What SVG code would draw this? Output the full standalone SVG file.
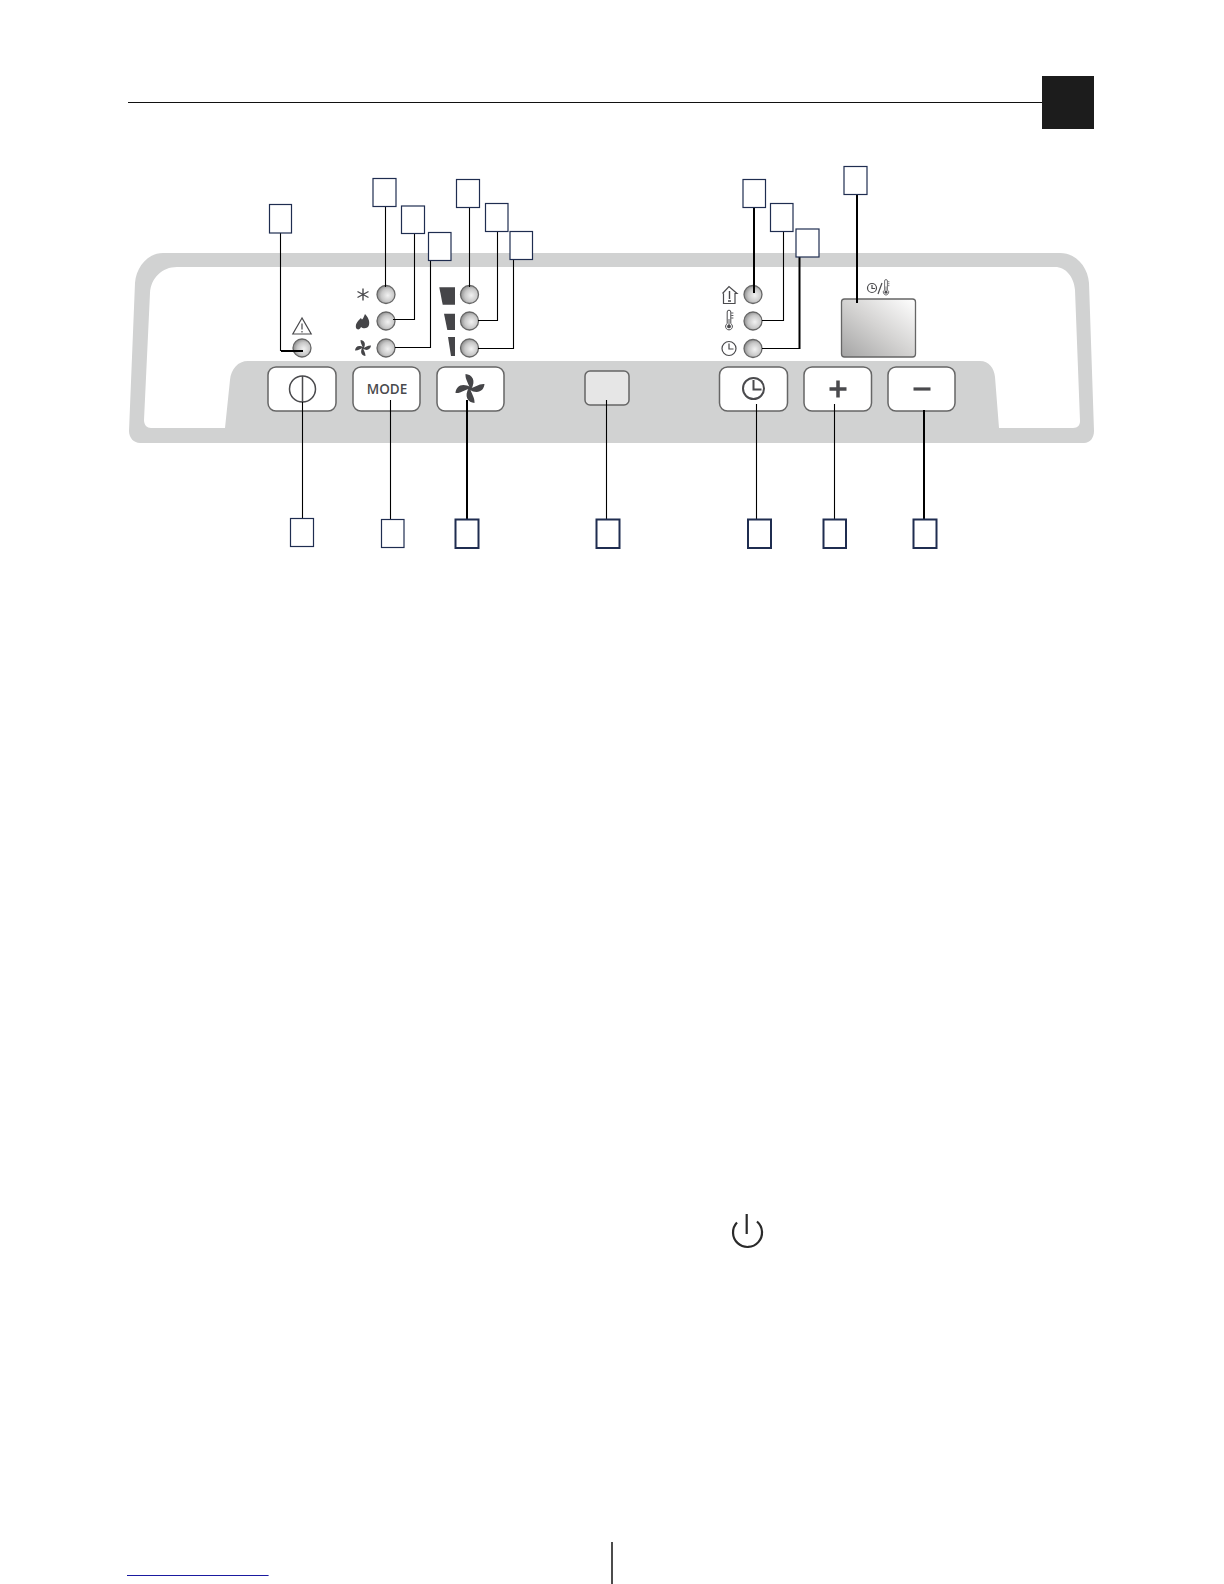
<svg xmlns="http://www.w3.org/2000/svg" xmlns:xlink="http://www.w3.org/1999/xlink" width="1224" height="1584" viewBox="0 0 1224 1584">
<style>
.btn{fill:#fff;stroke:#666;stroke-width:1.5}
.led{fill:url(#ledg);stroke:#666;stroke-width:1.3}
.box{fill:#fff;stroke:#1f2d50;stroke-width:1.2}
.boxb{fill:#fff;stroke:#1f2d50;stroke-width:2}
.c{fill:none;stroke:#000;stroke-width:1.1}
.cb{fill:none;stroke:#000;stroke-width:2}
.ic{fill:none;stroke:#4a4a4d;stroke-width:1.2}
.icf{fill:#454548;stroke:none}
.ib{fill:none;stroke:#4a4a4d;stroke-width:2}
</style>
<defs>
<radialGradient id="ledg" cx="0.6" cy="0.55" r="0.6"><stop offset="0" stop-color="#f2f2f2"/><stop offset="0.6" stop-color="#c8c8c8"/><stop offset="1" stop-color="#8e8e8e"/></radialGradient>
<linearGradient id="disp" x1="0" y1="1" x2="1" y2="0"><stop offset="0" stop-color="#a4a4a4"/><stop offset="0.5" stop-color="#d4d3d2"/><stop offset="1" stop-color="#ffffff"/></linearGradient>
<g id="fan"><path d="M0,1C-1,-5 -5,-9 -4.500,-14.500C2,-14 6.500,-8 1,1Z"/><path d="M0,1C-1,-5 -5,-9 -4.500,-14.500C2,-14 6.500,-8 1,1Z" transform="rotate(90)"/><path d="M0,1C-1,-5 -5,-9 -4.500,-14.500C2,-14 6.500,-8 1,1Z" transform="rotate(180)"/><path d="M0,1C-1,-5 -5,-9 -4.500,-14.500C2,-14 6.500,-8 1,1Z" transform="rotate(270)"/></g>
<g id="therm"><path d="M-1.8,-9a1.8,1.8 0 0 1 3.6,0V2.6a3.4,3.4 0 1 1 -3.6,0Z" fill="#fff" stroke="#4a4a4d" stroke-width="1"/><circle cx="0" cy="5.4" r="1.9" fill="#4a4a4d"/><path d="M0,-2V5M2.2,-8H4.4M2.2,-5.5H4.4M2.2,-3H4.4" stroke="#4a4a4d" stroke-width="0.9" fill="none"/></g>
</defs>
<rect width="1224" height="1584" fill="#fff"/>
<g id="header"><path d="M128,102.500H1042" stroke="#111" stroke-width="1"/><rect x="1042" y="76" width="52" height="53" fill="#1c1c1c"/></g>
<g id="panel"><path fill="#d1d2d2" fill-rule="evenodd" d="M163,253H1060C1077,253 1088,268 1089,283L1094,431C1094,438 1090,443 1084,443H140C134,443 129,438 129,431L135,283C136,268 147,253 163,253ZM177,267C162,267 151,278 150,293L144,420C144,425 147,428 151,428H225L230,380C231,369 238,361 248,361H980C989,361 994,368 995,377L999,428H1073C1078,428 1080,425 1080,421L1075,290C1074,277 1066,267 1055,267Z"/></g>
<g id="btn-power"><rect class="btn" x="268" y="367" width="68" height="44" rx="8"/><circle cx="302.500" cy="389" r="13" fill="none" stroke="#4a4a4d" stroke-width="1.5"/><path d="M302.500,376V402" stroke="#4a4a4d" stroke-width="1.5"/></g>
<g id="btn-mode"><rect class="btn" x="353" y="367" width="67" height="44" rx="8"/><text x="387" y="393.500" font-family="'Open Sans',sans-serif" font-weight="600" font-size="13.500" text-anchor="middle" fill="#4a4a4d">MODE</text></g>
<g id="btn-fan"><rect class="btn" x="437" y="367" width="67" height="44" rx="8"/><use href="#fan" xlink:href="#fan" transform="translate(470,388.500)" class="icf"/></g>
<g id="btn-small"><rect x="585" y="371" width="44" height="34" rx="5" fill="#e6e6e6" stroke="#666" stroke-width="1.5"/></g>
<g id="btn-timer"><rect class="btn" x="719.500" y="367" width="68" height="44" rx="8"/><circle class="ib" cx="753.500" cy="388.500" r="10.500"/><path class="ib" d="M753.500,380V389.500H761.500"/></g>
<g id="btn-plus"><rect class="btn" x="804" y="367" width="67.500" height="44" rx="8"/><path d="M829.500,389H846.500M838,380.500V397.500" stroke="#4a4a4d" stroke-width="3.500" fill="none"/></g>
<g id="btn-minus"><rect class="btn" x="888" y="367" width="67" height="44" rx="8"/><path d="M913.500,389H930.500" stroke="#4a4a4d" stroke-width="3.200" fill="none"/></g>
<g id="display"><rect x="841.500" y="299" width="74" height="58" rx="3" fill="url(#disp)" stroke="#666" stroke-width="1.300"/><circle class="ic" cx="872" cy="288" r="4.500"/><path class="ic" d="M872,285V288.500H875M878,294L882,283" stroke-width="1"/><use href="#therm" xlink:href="#therm" transform="translate(886,288) scale(0.78)"/></g>
<g id="led-alert"><circle class="led" cx="302" cy="348" r="9"/><path class="ic" d="M302,318L292.800,334H311.200Z" stroke-width="1.200"/><path d="M302,323.500V329.500M302,331V332.500" stroke="#4a4a4d" stroke-width="1.200"/></g>
<g id="led-cool"><circle class="led" cx="386" cy="294.500" r="9"/><path d="M363,288.500V300.500M357.500,291.500L368.500,297.500M357.500,297.500L368.500,291.500" stroke="#4a4a4d" stroke-width="1.400" fill="none"/></g>
<g id="led-dry"><circle class="led" cx="386" cy="321" r="9"/><path class="icf" d="M356,328C355,323 359,320 361,318C362,321 363,319 365,314C368,317 370,321 369,325C368,329 363,329 361,327C360,330 357,330 356,328Z"/></g>
<g id="led-fan"><circle class="led" cx="386" cy="348" r="9"/><use href="#fan" xlink:href="#fan" transform="translate(363,348) scale(0.55)" class="icf"/></g>
<g id="led-high"><circle class="led" cx="469.500" cy="294.500" r="9"/><path class="icf" d="M439.300,287.300H455V304.700H442.700Z"/></g>
<g id="led-mid"><circle class="led" cx="469.500" cy="321" r="9"/><path class="icf" d="M444,313.700H455V330H447.300Z"/></g>
<g id="led-low"><circle class="led" cx="469.500" cy="348" r="9"/><path class="icf" d="M448,337H455V356H451Z"/></g>
<g id="led-room"><circle class="led" cx="753" cy="294.500" r="9"/><path class="ic" d="M722.500,293.500L729,286.500L737,293.500H735V303.500H723.500V293.500" stroke-width="1.200"/><path d="M729.500,291V299M728,301H731" stroke="#4a4a4d" stroke-width="1.400"/></g>
<g id="led-temp"><circle class="led" cx="753" cy="321" r="9"/><use href="#therm" xlink:href="#therm" transform="translate(729,321)"/></g>
<g id="led-time"><circle class="led" cx="753" cy="348.500" r="9"/><circle class="ic" cx="729" cy="348.500" r="7"/><path class="ic" d="M729,343.500V349H733.500"/></g>
<g id="connectors">
<path class="c" d="M280.500,233V351"/><path class="cb" d="M281,351H303"/>
<path class="c" d="M385.500,206V287"/>
<path class="c" d="M414.500,233V319.500H393"/>
<path class="c" d="M430.500,260V347.500H395"/>
<path class="c" d="M469.500,207V287"/>
<path class="c" d="M497.500,231V320.500H478"/>
<path class="c" d="M513.500,259V348.500H478"/>
<path class="cb" d="M754,207V293"/>
<path class="c" d="M783.500,231V320.500H762"/>
<path class="cb" d="M799.500,257V348"/><path class="c" d="M800.500,348.500H762"/>
<path class="cb" d="M857,194V303"/>
<path class="c" d="M302.500,402V518"/>
<path class="c" d="M390.500,400V519"/>
<path class="cb" d="M467,400V519"/>
<path class="c" d="M606.500,400V519"/>
<path class="c" d="M756.500,404V519"/>
<path class="c" d="M834.500,404V519"/>
<path class="cb" d="M924,410V519"/>
</g>
<g id="callouts">
<rect class="box" x="269.500" y="204.500" width="22" height="28.500"/>
<rect class="box" x="373" y="178.500" width="23" height="28"/>
<rect class="box" x="401.500" y="206" width="23" height="27.500"/>
<rect class="box" x="428.500" y="232.500" width="22.500" height="28"/>
<rect class="box" x="456.500" y="179.500" width="23" height="28"/>
<rect class="box" x="485.500" y="203.500" width="22.500" height="28"/>
<rect class="box" x="510" y="231.500" width="22.500" height="28"/>
<rect class="box" x="743" y="179.500" width="22.500" height="28"/>
<rect class="box" x="770.500" y="203.500" width="22.500" height="28"/>
<rect class="box" x="796" y="229" width="23" height="28"/>
<rect class="box" x="844" y="166.500" width="23" height="28"/>
<rect class="box" x="290.500" y="518.500" width="23" height="28" stroke-width="1.600"/>
<rect class="box" x="381.500" y="519.500" width="22.500" height="28"/>
<rect class="boxb" x="455.500" y="519.500" width="23" height="28.500"/>
<rect class="boxb" x="596.500" y="519.500" width="23" height="28.500"/>
<rect class="boxb" x="748" y="519.500" width="23" height="28.500"/>
<rect class="boxb" x="823.500" y="519.500" width="22.500" height="28.500"/>
<rect class="boxb" x="913.500" y="519.500" width="23" height="28.500"/>
</g>
<g id="standby-icon"><path d="M737,1222.500A14.500,14.500 0 1 0 757,1221.500M746.700,1214V1234" fill="none" stroke="#2a2a2a" stroke-width="2.200"/></g>
<g id="footer"><path d="M127,1575.500H268.600" stroke="#1a1aa0" stroke-width="1"/><path d="M612,1542V1584" stroke="#111" stroke-width="1.500"/></g>
</svg>
